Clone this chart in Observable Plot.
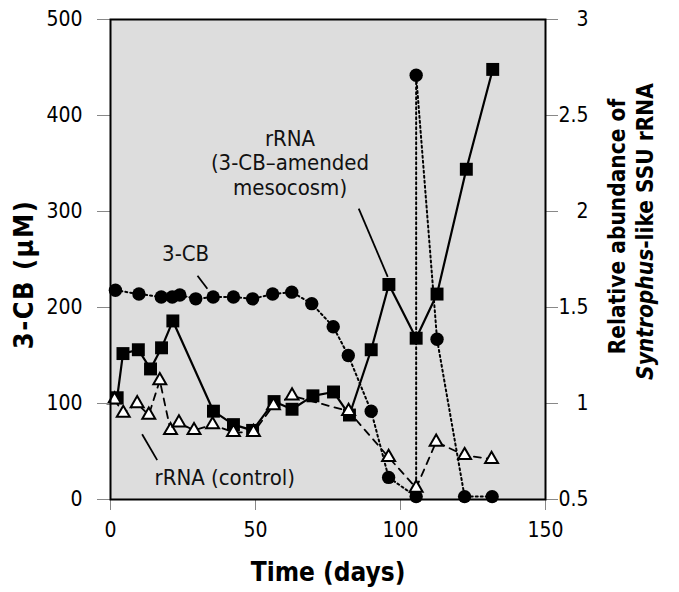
<!DOCTYPE html>
<html><head><meta charset="utf-8">
<script src="https://cdn.jsdelivr.net/npm/d3@7"></script>
<script src="https://cdn.jsdelivr.net/npm/@observablehq/plot@0.6"></script>
<style>
body{margin:0;background:#fff}
#chart svg{display:block}
.ttl text{letter-spacing:1.5px}
</style>
</head><body><div id="chart"></div>
<script>
// 3-CB concentration (µM, left axis)
const cbDays   = [1.7, 9.8, 17.5, 21.3, 23.9, 29.4, 35.4, 42.4, 49.0, 55.9, 62.5, 69.4, 76.8, 82.0, 89.9, 95.9, 105.4, 105.4, 112.6, 122.1, 131.6];
const cbValues = [218, 214, 211, 211, 213, 209, 211, 211, 209, 214, 216, 204, 180, 150, 92, 23, 3, 442, 167, 3, 3];
// rRNA, 3-CB-amended mesocosm (relative abundance, right axis)
const amendedDays   = [2.3, 4.3, 9.6, 13.8, 17.6, 21.5, 35.5, 42.4, 49.0, 56.4, 62.6, 69.8, 76.9, 82.4, 89.9, 96.0, 105.4, 112.6, 122.7, 131.8];
const amendedValues = [1.03, 1.26, 1.28, 1.18, 1.29, 1.43, 0.96, 0.89, 0.86, 1.01, 0.97, 1.04, 1.06, 0.94, 1.28, 1.62, 1.34, 1.57, 2.22, 2.74];
// rRNA, control (relative abundance, right axis)
const controlDays   = [1.4, 4.4, 9.2, 13.2, 17.0, 20.7, 23.6, 28.8, 35.2, 42.4, 49.3, 56.2, 62.6, 82.1, 95.9, 105.4, 112.3, 122.1, 131.4];
const controlValues = [1.02, 0.95, 1.00, 0.94, 1.12, 0.86, 0.90, 0.86, 0.89, 0.85, 0.85, 0.99, 1.04, 0.96, 0.72, 0.56, 0.80, 0.73, 0.71];
// tick labels
const xTicks = [0, 50, 100, 150];
const leftTicks = [0, 100, 200, 300, 400, 500];
const rightTicks = [0.5, 1, 1.5, 2, 2.5, 3];
// annotation labels (data coordinates: day, µM)
const annotLabels = ["3-CB", "rRNA", "(3-CB\u2013amended", "mesocosm)", "rRNA (control)"];
const annotDays   = [25.9, 61.9, 61.9, 61.9, 39.4];
const annotVals   = [256, 376, 351, 325, 22];
const leaderFrom = [[30.0, 233], [85.6, 303], [10.9, 68]];
const leaderTo   = [[33.4, 219.5], [95.6, 232], [16.1, 41]];

const FONT = '"DejaVu Sans Condensed","Liberation Sans Narrow","Arial Narrow",sans-serif';
const toLeft = v => (v - 0.5) * 200;
const fromLeft = d => d / 200 + 0.5;

const cb = cbDays.map((d, i) => ({day: d, value: cbValues[i]}));
const amended = amendedDays.map((d, i) => ({day: d, value: toLeft(amendedValues[i])}));
const control = controlDays.map((d, i) => ({day: d, value: toLeft(controlValues[i])}));
const annots = annotLabels.map((t, i) => ({label: t, day: annotDays[i], value: annotVals[i]}));
const leaders = leaderFrom.map((f, i) => ({x1: f[0], y1: f[1], x2: leaderTo[i][0], y2: leaderTo[i][1]}));

const plot = Plot.plot({
  width: 679, height: 592,
  marginLeft: 110, marginRight: 134, marginTop: 19, marginBottom: 93,
  style: {fontFamily: FONT, fontSize: "21px", color: "#000", background: "#fff"},
  x: {domain: [0, 150], label: null},
  y: {domain: [0, 500], label: null},
  marks: [
    Plot.frame({fill: "#dddddd"}),
    Plot.line(cb, {x: "day", y: "value", stroke: "#000", strokeWidth: 2, strokeDasharray: "2,3"}),
    Plot.line(amended, {x: "day", y: "value", stroke: "#000", strokeWidth: 2.2}),
    Plot.line(control, {x: "day", y: "value", stroke: "#000", strokeWidth: 1.8, strokeDasharray: "7,6"}),
    Plot.dot(cb, {x: "day", y: "value", r: 6.7, symbol: "circle", fill: "#000"}),
    Plot.dot(amended, {x: "day", y: "value", r: 7.3, symbol: "square", fill: "#000"}),
    Plot.dot(control, {x: "day", y: "value", r: 4.8, symbol: "triangle", fill: "#fff", stroke: "#000", strokeWidth: 2}),
    Plot.link(leaders, {x1: "x1", y1: "y1", x2: "x2", y2: "y2", stroke: "#000", strokeWidth: 1.8}),
    Plot.text(annots, {x: "day", y: "value", text: "label", fontSize: 22, fill: "#111"}),
    Plot.axisX({ticks: xTicks, tickSize: 11, tickPadding: 12, stroke: "#888", label: null}),
    Plot.axisY({ticks: leftTicks, anchor: "left", tickSize: 13, tickPadding: 15, stroke: "#888", label: null}),
    Plot.axisY({ticks: rightTicks.map(toLeft), anchor: "right", tickSize: 12, tickPadding: 31, textAnchor: "end",
      tickFormat: d => String(fromLeft(d)), stroke: "#888", label: null}),
    Plot.frame({stroke: "#000", strokeWidth: 2}),
    Plot.text(["3-CB (\u03BCM)"], {frameAnchor: "left", rotate: -90, dx: -86, dy: 15, textAnchor: "middle", lineAnchor: "middle", fontSize: 27, fontWeight: "bold", className: "ttl"}),
    Plot.text(["Time (days)"], {frameAnchor: "bottom", dy: 73, textAnchor: "middle", lineAnchor: "middle", fontSize: 26, fontWeight: "bold"}),
    Plot.text(["Relative abundance of"], {frameAnchor: "right", rotate: -90, dx: 72, dy: -33, textAnchor: "middle", lineAnchor: "middle", fontSize: 22.5, fontWeight: "bold"}),
    Plot.text(["Syntrophus-like SSU rRNA"], {frameAnchor: "right", rotate: -90, dx: 100, dy: -28, textAnchor: "middle", lineAnchor: "middle", fontSize: 22.5, fontWeight: "bold", className: "rtitle2"})
  ]
});
document.getElementById("chart").appendChild(plot);
d3.select(plot).selectAll(".rtitle2 text").each(function() {
  const t = d3.select(this);
  t.text(null);
  t.append("tspan").attr("font-style", "italic").text("Syntrophus");
  t.append("tspan").text("-like SSU rRNA");
});
</script>
</body></html>
